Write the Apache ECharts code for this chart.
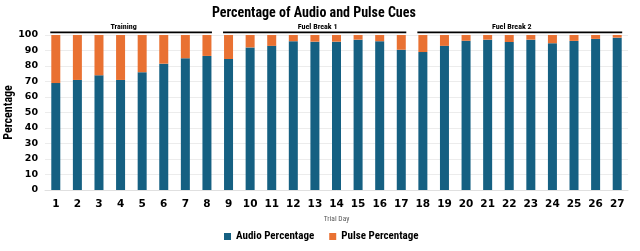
<!DOCTYPE html>
<html><head><meta charset="utf-8">
<script src="https://cdn.jsdelivr.net/npm/echarts@6/dist/echarts.min.js"></script>
<style>html,body{margin:0;padding:0;background:#fff}#c{width:640px;height:251px}</style>
</head><body><div id="c"></div>
<script>
const days = ['1','2','3','4','5','6','7','8','9','10','11','12','13','14','15','16','17','18','19','20','21','22','23','24','25','26','27'];
const audioPct = [69, 71, 74, 71, 76, 81.5, 85, 86.5, 84.5, 92, 93, 96, 95.7, 95.7, 97, 96, 90.5, 89, 93, 96.3, 97, 95.5, 97, 94.7, 96.2, 97.5, 98.3];
const pulsePct = [31, 29, 26, 29, 24, 18.5, 15, 13.5, 15.5, 8, 7, 4, 4.3, 4.3, 3, 4, 9.5, 11, 7, 3.7, 3, 4.5, 3, 5.3, 3.8, 2.5, 1.7];
const groupNames = ['Training', 'Fuel Break 1', 'Fuel Break 2'];
const groupFirst = ['1', '9', '18'];
const groupLast = ['8', '17', '27'];
const yTicks = [0, 10, 20, 30, 40, 50, 60, 70, 80, 90, 100];

const labelShift = [-7.5, 3, -8];
const COND = '"Roboto Condensed", "Liberation Sans", sans-serif';
const BLUE = '#156082', ORANGE = '#E97132';
const chart = echarts.init(document.getElementById('c'), null, {renderer: 'canvas'});
chart.setOption({
  animation: false,
  title: {text: 'Percentage of Audio and Pulse Cues', left: 212, top: 6, padding: 0,
    textStyle: {fontFamily: COND, fontWeight: 'bold', fontSize: 14, color: '#000'}},
  legend: {bottom: 4, left: 219, itemWidth: 7, itemHeight: 7, itemGap: 15, icon: 'rect',
    textStyle: {fontFamily: COND, fontWeight: 'bold', fontSize: 11, color: '#000'},
    data: ['Audio Percentage', 'Pulse Percentage']},
  grid: {left: 45, right: 12, top: 35, bottom: 61, containLabel: false, outerBoundsMode: 'none'},
  xAxis: {type: 'category', data: days, name: 'Trial Day', nameLocation: 'middle', nameGap: 25,
    nameMoveOverlap: false,
    nameTextStyle: {fontFamily: COND, fontSize: 7.5, color: '#595959'},
    axisTick: {show: false}, axisLine: {lineStyle: {color: '#e0e0e0'}},
    axisLabel: {fontFamily: 'DejaVu Sans', fontWeight: 'bold', fontSize: 10.5, color: '#000', margin: 9}},
  yAxis: {type: 'value', min: yTicks[0], max: yTicks[yTicks.length-1], interval: 10,
    name: 'Percentage', nameLocation: 'middle', nameGap: 30, nameRotate: 90, nameMoveOverlap: false,
    nameTextStyle: {fontFamily: COND, fontWeight: 'bold', fontSize: 12, color: '#000'},
    axisLabel: {fontFamily: 'DejaVu Sans', fontWeight: 'bold', fontSize: 9.5, color: '#000', margin: 7},
    splitLine: {lineStyle: {color: '#ececec'}}},
  series: [
    {name: 'Audio Percentage', type: 'bar', stack: 'a', data: audioPct, barWidth: 9, itemStyle: {color: BLUE}},
    {name: 'Pulse Percentage', type: 'bar', stack: 'a', data: pulsePct, barWidth: 9, itemStyle: {color: ORANGE}}
  ]
});
const topY = chart.convertToPixel({yAxisIndex: 0}, yTicks[yTicks.length-1]);
const g = [];
for (let i = 0; i < groupNames.length; i++) {
  const x1 = chart.convertToPixel({xAxisIndex: 0}, groupFirst[i]) - 5.5;
  const x2 = chart.convertToPixel({xAxisIndex: 0}, groupLast[i]) + 5;
  g.push({type: 'line', shape: {x1: x1, y1: topY - 2.7, x2: x2, y2: topY - 2.7}, style: {stroke: '#000', lineWidth: 1.8}});
  g.push({type: 'text', x: (x1 + x2) / 2 + labelShift[i], y: topY - 8, style: {text: groupNames[i], fill: '#000',
    font: 'bold 8px ' + COND, textAlign: 'center', textVerticalAlign: 'middle'}});
}
chart.setOption({graphic: g});
</script></body></html>
